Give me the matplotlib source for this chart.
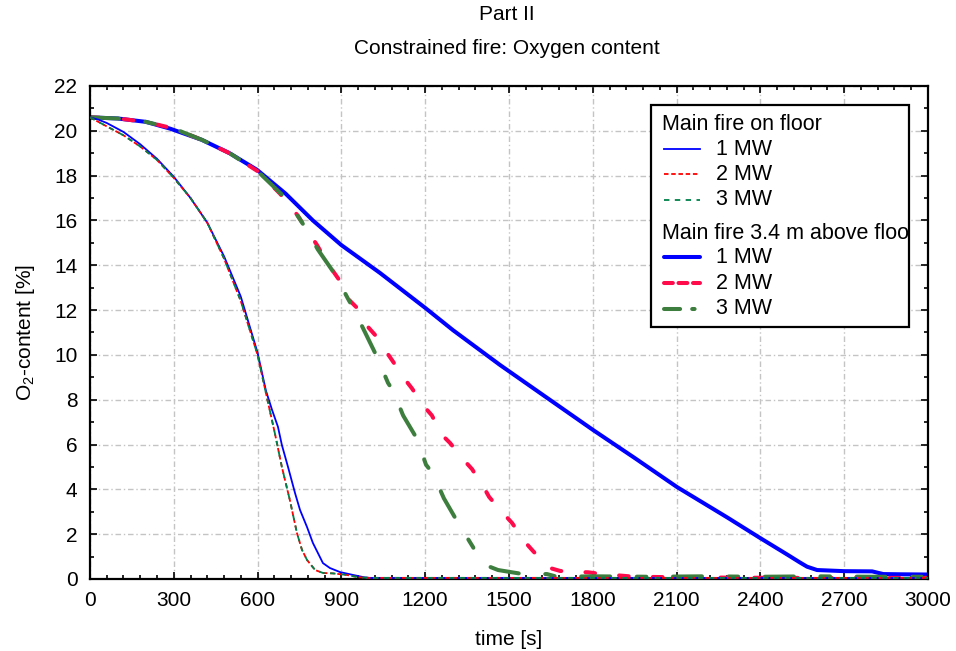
import matplotlib
matplotlib.use('Agg')
import matplotlib.pyplot as plt
from matplotlib.patches import Rectangle
from matplotlib.ticker import MultipleLocator

plt.rcParams['font.family'] = ['Liberation Sans', 'DejaVu Sans']
plt.rcParams['mathtext.fontset'] = 'custom'
plt.rcParams['mathtext.rm'] = 'Liberation Sans'

# main fire on floor (thin lines)
floor_1mw_t = [0, 30, 60, 120, 180, 240, 300, 360, 420, 480, 540, 600, 630, 652, 673, 687, 709,
               734, 752, 777, 798, 816, 834, 859, 895, 942, 980, 1000, 1500, 2000, 2500, 3000]
floor_1mw = [20.6, 20.5, 20.35, 19.95, 19.4, 18.75, 17.95, 17.0, 15.9, 14.4, 12.6, 10.1, 8.4, 7.54, 6.79, 5.98, 5.0,
             3.84, 3.08, 2.32, 1.61, 1.16, 0.71, 0.49, 0.31, 0.18, 0.08, 0.05, 0.05, 0.05, 0.05, 0.05]
floor_t = [0, 30, 60, 120, 180, 240, 300, 360, 420, 480, 540, 600, 637, 662, 687, 716,
           741, 759, 777, 806, 834, 870, 920, 960, 1000, 1500, 2000, 2500, 3000]
floor_2mw = [20.6, 20.4, 20.2, 19.8, 19.3, 18.7, 17.9, 17.0, 15.9, 14.3, 12.4, 10.0, 7.9, 6.5, 5.0, 3.5,
             2.05, 1.3, 0.85, 0.4, 0.27, 0.25, 0.18, 0.08, 0.05, 0.05, 0.05, 0.05, 0.05]
floor_3mw = [20.6, 20.4, 20.2, 19.8, 19.3, 18.7, 17.9, 17.0, 15.9, 14.3, 12.4, 10.0, 7.9, 6.5, 5.0, 3.5,
             2.05, 1.3, 0.85, 0.4, 0.27, 0.25, 0.18, 0.08, 0.05, 0.05, 0.05, 0.05, 0.05]

# main fire 3.4 m above floor (thick lines)
above_1mw_t = [0, 100, 200, 286, 400, 500, 598, 700, 798, 900, 1038, 1200, 1300, 1468, 1600, 1801,
               1950, 2102, 2281, 2399, 2495, 2540, 2567, 2603, 2700, 2800, 2840, 2900, 3000]
above_1mw = [20.6, 20.55, 20.4, 20.1, 19.6, 19.0, 18.26, 17.2, 16.0, 14.9, 13.66, 12.1, 11.1, 9.55, 8.4, 6.65,
             5.4, 4.1, 2.75, 1.83, 1.1, 0.75, 0.55, 0.4, 0.35, 0.34, 0.22, 0.21, 0.2]
above_2mw_t = [0, 100, 200, 300, 400, 500, 600, 680, 700, 745, 770, 813, 850, 892, 924, 956, 995, 1020,
               1063, 1085, 1128, 1153, 1196, 1224, 1260, 1289, 1339, 1368, 1411, 1429, 1482, 1511, 1561,
               1586, 1620, 1647, 1683, 1747, 1783, 1844, 1873, 1950, 2100, 2300, 2500, 2700, 3000]
above_2mw = [20.6, 20.55, 20.4, 20.1, 19.6, 19.0, 18.2, 17.2, 16.9, 16.2, 15.7, 14.9, 14.1, 13.35, 12.5, 12.1, 11.25, 10.9,
             10.1, 9.7, 8.9, 8.5, 7.7, 7.3, 6.43, 6.07, 5.3, 4.9, 4.06, 3.66, 2.9, 2.5, 1.6,
             1.25, 0.8, 0.49, 0.36, 0.31, 0.3, 0.2, 0.18, 0.1, 0.08, 0.06, 0.05, 0.05, 0.05]
above_3mw_t = [0, 100, 200, 300, 400, 500, 600, 700, 741, 770, 816, 877, 924, 942, 985, 1028, 1067, 1085,
               1121, 1171, 1203, 1228, 1267, 1318, 1371, 1386, 1420, 1461, 1550, 1636, 1672, 1800, 2000,
               2200, 2400, 2600, 2800, 3000]
above_3mw = [20.6, 20.55, 20.4, 20.1, 19.6, 19.0, 18.2, 17.0, 16.25, 15.7, 14.7, 13.6, 12.5, 12.1, 11.0, 9.9, 8.75, 8.4,
             7.3, 6.25, 5.1, 4.7, 3.6, 2.5, 1.43, 1.07, 0.6, 0.4, 0.22, 0.22, 0.1, 0.12, 0.1,
             0.12, 0.1, 0.12, 0.1, 0.1]

legend_head1 = 'Main fire on floor'
legend_head2 = 'Main fire 3.4 m above floor'
mw_labels = ['1 MW', '2 MW', '3 MW']

BLUE = '#0000ff'
RED_THIN = '#ff0000'
GREEN_THIN = '#00804a'
RED = '#ff0a4a'
GREEN = '#3d7d3d'
FS = 15

fig = plt.figure(figsize=(9.56, 6.51), dpi=100)
ax = fig.add_axes([0.0941, 0.1106, 0.8766, 0.7573])

# thick curves
ax.plot(above_1mw_t, above_1mw, color=BLUE, lw=2.9, solid_capstyle='round', zorder=2)
ax.plot(above_2mw_t, above_2mw, color=RED, lw=2.9, dashes=(2.4, 6.0), dash_capstyle='round', zorder=2)
ax.plot(above_3mw_t, above_3mw, color=GREEN, lw=2.9, dashes=(7.2, 6.6, 2.4, 6.6), dash_capstyle='round', zorder=2)

# thin curves
ax.plot(floor_1mw_t, floor_1mw, color=BLUE, lw=1.3, zorder=3)
ax.plot(floor_t, floor_2mw, color=RED_THIN, lw=1.3, dashes=(2.5, 1.5), zorder=3)
ax.plot(floor_t, floor_3mw, color=GREEN_THIN, lw=1.3, dashes=(3, 3), zorder=3)

ax.set_xlim(0, 3000)
ax.set_ylim(0, 22)
ax.xaxis.set_major_locator(MultipleLocator(300))
ax.xaxis.set_minor_locator(MultipleLocator(60))
ax.yaxis.set_major_locator(MultipleLocator(2))
ax.yaxis.set_minor_locator(MultipleLocator(1))
ax.tick_params(which='both', direction='in', top=True, right=True, labelsize=FS, width=1.2)
ax.tick_params(which='major', length=5)
ax.tick_params(which='minor', length=3)
ax.tick_params(axis='x', pad=9)
ax.tick_params(axis='y', pad=9)
for sp in ax.spines.values():
    sp.set_linewidth(1.6)
ax.grid(True, which='major', color='#c4c4c4', linestyle=(0, (4, 2, 1, 2)), linewidth=1.0)
ax.set_axisbelow(True)

ax.set_xlabel('time [s]', fontsize=FS, labelpad=14)
ax.set_ylabel(r'O$_\mathregular{2}$-content [%]', fontsize=FS, labelpad=12)

fig.text(0.53, 1 - 15 / 651, 'Part II', ha='center', va='center', fontsize=FS)
fig.text(0.53, 1 - 48 / 651, 'Constrained fire: Oxygen content', ha='center', va='center', fontsize=FS)

# hand-made legend (the second header is clipped by the frame, as in the original)
frame = Rectangle((0.669, 0.511), 0.308, 0.45, transform=ax.transAxes, facecolor='white',
                  edgecolor='black', lw=1.6, zorder=10)
ax.add_patch(frame)
hx0, hx1, tx = 0.685, 0.728, 0.747
LFS = 15.5
ax.text(0.6826, 0.921, legend_head1, transform=ax.transAxes, fontsize=LFS, va='center', zorder=11)
h2 = ax.text(0.6826, 0.700, legend_head2, transform=ax.transAxes, fontsize=LFS, va='center', zorder=11)
h2.set_clip_path(frame)
h2.set_clip_on(True)

rows1 = [0.872, 0.821, 0.769]
rows2 = [0.653, 0.600, 0.548]
styles1 = [dict(color=BLUE, lw=1.3), dict(color=RED_THIN, lw=1.3, dashes=(2.5, 1.5)),
           dict(color=GREEN_THIN, lw=1.3, dashes=(3, 3))]
styles2 = [dict(color=BLUE, lw=2.9, solid_capstyle='round'),
           dict(color=RED, lw=2.9, dashes=(2.2, 1.4), dash_capstyle='round'),
           dict(color=GREEN, lw=2.9, dashes=(4.0, 3.0, 0.6, 3.0), dash_capstyle='round')]
for rows, styles in [(rows1, styles1), (rows2, styles2)]:
    for y, st, lab in zip(rows, styles, mw_labels):
        ax.plot([hx0, hx1], [y, y], transform=ax.transAxes, zorder=11, **st)
        ax.text(tx, y, lab, transform=ax.transAxes, fontsize=LFS, va='center', zorder=11)

fig.savefig('out.png', dpi=100)
